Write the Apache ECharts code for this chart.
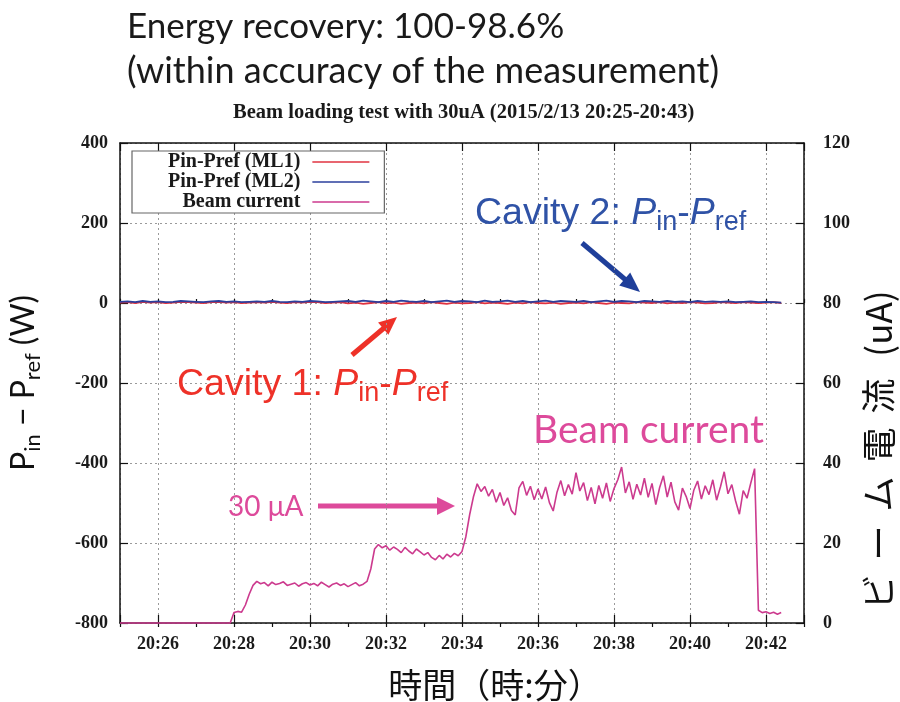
<!DOCTYPE html>
<html>
<head>
<meta charset="utf-8">
<script src="https://cdn.jsdelivr.net/npm/echarts@6/dist/echarts.min.js"></script>
<style>
  html, body { margin: 0; padding: 0; background: #fff; }
  #chart { width: 900px; height: 702px; }
</style>
</head>
<body>
<div id="chart"></div>
<script>
// Time is measured in minutes after 20:00.
const timeRange = [25, 43];
const xTickMinutes = [26, 28, 30, 32, 34, 36, 38, 40, 42];
const powerRange = [-800, 400];
const currentRange = [0, 120];

const seriesNames = ['Pin-Pref (ML1)', 'Pin-Pref (ML2)', 'Beam current'];

// Beam current (uA), logged every 0.1 min from 20:25.0
const beamStart = 25.0;
const beamStep = 0.1;
const beamCurrent = [
  0, 0, 0, 0, 0, 0, 0, 0, 0, 0,
  0, 0, 0, 0, 0, 0, 0, 0, 0, 0,
  0, 0, 0, 0, 0, 0, 0, 0, 0, 0,
  2.6, 2.9, 2.7, 4.5, 7.2, 9.4,
  10.4, 9.8, 10.1, 9.3, 10.2, 9.6, 9.9, 10.3, 9.4, 9.7,
  10.0, 9.2, 9.8, 10.1, 9.5, 9.9, 9.3, 10.2, 9.6, 9.0,
  9.7, 10.0, 9.4, 9.8, 9.1, 9.6, 10.1, 9.3, 9.7, 10.4,
  13.5, 18.5,
  19.6, 18.8, 19.3, 18.2, 19.0, 18.4, 17.6, 18.9, 18.0, 17.3,
  18.5, 17.8, 17.0, 17.6, 16.4, 15.8, 16.9, 16.0, 17.2, 16.5,
  17.4, 16.8, 17.9,
  21.5, 27.0, 31.5,
  34.8, 32.9, 34.1, 31.7, 33.4, 30.2,
  32.6, 29.4, 31.3, 28.1, 27.0, 33.8, 35.4, 31.9, 34.2, 30.8,
  33.5, 31.0, 34.0, 30.1, 28.0, 32.7, 35.6, 31.8, 34.6, 32.2,
  37.6, 33.0, 35.1, 30.6, 33.9, 29.8, 34.4, 31.2, 35.0, 30.4,
  33.6, 35.8, 39.0, 32.5, 35.3, 30.9, 34.7, 32.0, 36.2, 31.4,
  34.9, 29.6, 33.8, 36.8, 31.5, 35.2, 30.3, 28.2, 33.7, 31.6,
  28.6, 33.2, 35.5, 31.0, 34.3, 32.1, 35.8, 30.7, 34.0, 37.8,
  32.3, 34.6, 30.5, 27.2, 33.1, 31.2, 35.0, 38.6,
  3.2, 2.6, 2.8, 2.4, 2.7, 2.2, 2.6
];

// Pin - Pref (W) of the two cavities, logged every 0.2 min from 20:25.0
const powerStart = 25.0;
const powerStep = 0.2;
const ml1Power = [
  1, 2, 0, 3, 1, 2, 0, 1, 3, 2,
  1, 0, 2, 3, 1, 2, 0, 1, 2, 1,
  3, 1, 0, 2, 1, 3, 2, 0, 1, 2,
  -1, 1, -2, 0, 2, -1, 1, -2, 0, 1,
  -1, 2, 0, -2, 1, -1, 0, 2, -1, 1,
  0, -2, 1, -1, 2, 0, -1, 1, -2, 0,
  1, -1, 2, 0, -2, 1, 0, -1, 2, 1,
  0, 2, -1, 1, 0, 2, 1, -1, 0, 2,
  1, 0, 2, 1, 0, 1, 2, 0
];
const ml2Power = [
  3, 4, 2, 5, 3, 4, 2, 3, 5, 4,
  3, 2, 4, 5, 3, 4, 2, 3, 4, 3,
  5, 3, 2, 4, 3, 5, 4, 2, 3, 4,
  5, 3, 6, 4, 2, 5, 3, 6, 4, 3,
  5, 2, 4, 6, 3, 5, 4, 2, 6, 3,
  4, 6, 3, 5, 2, 4, 6, 3, 5, 4,
  3, 5, 2, 4, 6, 3, 5, 4, 2, 5,
  4, 3, 5, 3, 4, 2, 5, 3, 4, 3,
  4, 2, 3, 4, 2, 3, 2, 1
];

const SERIF = '"Liberation Serif", "DejaVu Serif", serif';
const SANS = 'Lato, "Noto Sans", sans-serif';
const ARIAL = '"Liberation Sans", Arial, sans-serif';
const CJK = '"Noto Sans CJK JP", "Noto Sans CJK SC", sans-serif';

const RED = '#e03340';
const BLUE = '#2b3f9c';
const MAGENTA = '#cc3a8e';

function timed(values, start, step) {
  return values.map((v, i) => [Math.round((start + i * step) * 100) / 100, v]);
}

function minuteLabel(v) {
  if (xTickMinutes.indexOf(v) < 0) return '';
  return '20:' + String(v).padStart(2, '0');
}

function arrow(x1, y1, x2, y2, color, width, headLen, headWidth) {
  const dx = x2 - x1, dy = y2 - y1;
  const len = Math.hypot(dx, dy);
  const ux = dx / len, uy = dy / len;
  const bx = x2 - ux * headLen, by = y2 - uy * headLen;
  const nx = -uy * headWidth / 2, ny = ux * headWidth / 2;
  return {
    type: 'group', silent: true, z: 100,
    children: [
      { type: 'line', shape: { x1: x1, y1: y1, x2: bx + ux, y2: by + uy },
        style: { stroke: color, lineWidth: width } },
      { type: 'polygon', shape: { points: [[x2, y2], [bx + nx, by + ny], [bx - nx, by - ny]] },
        style: { fill: color } }
    ]
  };
}

// Rich styles for "Cavity n: P_in-P_ref" (zrender text uses fill)
function pRich(color, size, subSize) {
  return {
    m: { fontFamily: ARIAL, fontSize: size, fill: color, lineHeight: 44 },
    p: { fontFamily: ARIAL, fontSize: size, fill: color, fontStyle: 'italic', lineHeight: 44 },
    s: { fontFamily: ARIAL, fontSize: subSize, fill: color, lineHeight: 16, verticalAlign: 'bottom' }
  };
}

const frameLine = { show: true, onZero: false, lineStyle: { color: '#111', width: 1.5 } };
const gridDots = { show: true, lineStyle: { color: '#9a9a9a', width: 1, type: [2, 3] } };
const tickFont = { fontFamily: SERIF, fontWeight: 'bold', fontSize: 18, color: '#1a1a1a' };
const tickLine = { color: '#111', width: 1.2 };

const chart = echarts.init(document.getElementById('chart'), null, { renderer: 'canvas' });

chart.setOption({
  backgroundColor: '#fff',
  animation: false,
  title: {
    text: 'Beam loading test with 30uA (2015/2/13 20:25-20:43)',
    left: 233, top: 102, padding: 0,
    textStyle: { fontFamily: SERIF, fontWeight: 'bold', fontSize: 20.5, color: '#1a1a1a' }
  },
  grid: { left: 120, right: 96, top: 143, bottom: 79, containLabel: false, outerBoundsMode: 'none' },
  legend: {
    data: seriesNames,
    orient: 'vertical', align: 'right',
    left: 132, top: 151,
    padding: [1, 15, 1, 36],
    itemWidth: 57, itemHeight: 14, itemGap: 0,
    icon: 'path://M0,0L57,0L57,1.6L0,1.6Z',
    backgroundColor: '#fff', borderColor: '#666', borderWidth: 1.2,
    textStyle: { fontFamily: SERIF, fontWeight: 'bold', fontSize: 20, lineHeight: 20, color: '#1a1a1a', padding: [0, 7, 0, 0] }
  },
  xAxis: [
    {
      type: 'value', position: 'bottom',
      min: timeRange[0], max: timeRange[1], splitNumber: 9,
      axisLine: frameLine,
      axisTick: { show: true, inside: true, length: 8, lineStyle: tickLine },
      axisLabel: { ...tickFont, margin: 12, formatter: minuteLabel },
      splitLine: gridDots,
      name: '時間（時:分）', nameLocation: 'middle', nameGap: 45,
      nameTextStyle: { fontFamily: CJK, fontSize: 34, color: '#111', padding: [0, 0, 0, 66] }
    },
    {
      type: 'value', position: 'top',
      min: timeRange[0], max: timeRange[1], splitNumber: 9,
      axisLine: frameLine,
      axisTick: { show: true, inside: true, length: 8, lineStyle: tickLine },
      axisLabel: { show: false }, splitLine: { show: false }
    },
    {
      type: 'value', position: 'bottom',
      min: timeRange[0], max: timeRange[1], interval: 1,
      axisLine: { show: false },
      axisTick: { show: true, inside: true, length: 4, lineStyle: tickLine },
      axisLabel: { show: false }, splitLine: { show: false }
    },
    {
      type: 'value', position: 'top',
      min: timeRange[0], max: timeRange[1], interval: 1,
      axisLine: { show: false },
      axisTick: { show: true, inside: true, length: 4, lineStyle: tickLine },
      axisLabel: { show: false }, splitLine: { show: false }
    }
  ],
  yAxis: [
    {
      type: 'value', position: 'left',
      min: powerRange[0], max: powerRange[1], interval: 200,
      axisLine: frameLine,
      axisTick: { show: true, inside: true, length: 8, lineStyle: tickLine },
      axisLabel: { ...tickFont, margin: 12 },
      splitLine: gridDots,
      name: '{m|P}{s|in}{m| − P}{s|ref}{m| (W)}',
      nameLocation: 'middle', nameRotate: 90, nameGap: 76,
      nameTextStyle: {
        rich: {
          m: { fontFamily: SANS, fontSize: 32, color: '#111', lineHeight: 40 },
          s: { fontFamily: SANS, fontSize: 22, color: '#111', lineHeight: 12, verticalAlign: 'bottom' }
        }
      }
    },
    {
      type: 'value', position: 'right',
      min: currentRange[0], max: currentRange[1], interval: 20,
      axisLine: frameLine,
      axisTick: { show: true, inside: true, length: 8, lineStyle: tickLine },
      axisLabel: { ...tickFont, margin: 19 },
      splitLine: { show: false },
      name: '{c|ビ}{c|ー}{c|ム}{c|電}{c|流}{c| (uA)}',
      nameLocation: 'middle', nameRotate: 90, nameGap: 57,
      nameTextStyle: {
        padding: [0, 134, 0, 0],
        rich: { c: { fontFamily: CJK, fontSize: 35, color: '#111', padding: [0, 7, 0, 7] } }
      }
    }
  ],
  series: [
    {
      name: seriesNames[2], type: 'line', xAxisIndex: 0, yAxisIndex: 1,
      data: timed(beamCurrent, beamStart, beamStep),
      symbol: 'none', clip: false, z: 3,
      lineStyle: { color: MAGENTA, width: 1.6 }, itemStyle: { color: MAGENTA }
    },
    {
      name: seriesNames[0], type: 'line', xAxisIndex: 0, yAxisIndex: 0,
      data: timed(ml1Power, powerStart, powerStep),
      symbol: 'none', z: 4,
      lineStyle: { color: RED, width: 1.8 }, itemStyle: { color: RED }
    },
    {
      name: seriesNames[1], type: 'line', xAxisIndex: 0, yAxisIndex: 0,
      data: timed(ml2Power, powerStart, powerStep),
      symbol: 'none', z: 5,
      lineStyle: { color: BLUE, width: 1.8 }, itemStyle: { color: BLUE }
    }
  ],
  graphic: [
    { type: 'text', x: 127, y: 27, z: 100,
      style: { text: 'Energy recovery: 100-98.6%', font: '35px ' + SANS, fill: '#1a1a1a', verticalAlign: 'middle' } },
    { type: 'text', x: 127, y: 71, z: 100,
      style: { text: '(within accuracy of the measurement)', font: '36px ' + SANS, fill: '#1a1a1a', verticalAlign: 'middle' } },
    { type: 'text', x: 475, y: 192, z: 100,
      style: { text: '{m|Cavity 2: }{p|P}{s|in}{m|-}{p|P}{s|ref}', rich: pRich('#2f52a6', 37.5, 27), verticalAlign: 'top' } },
    { type: 'text', x: 177, y: 363, z: 100,
      style: { text: '{m|Cavity 1: }{p|P}{s|in}{m|-}{p|P}{s|ref}', rich: pRich('#ee3128', 37.5, 27), verticalAlign: 'top' } },
    { type: 'text', x: 533, y: 430, z: 100,
      style: { text: 'Beam current', font: '39px ' + SANS, fill: '#dd4a9b', verticalAlign: 'middle' } },
    { type: 'text', x: 228, y: 507, z: 100,
      style: { text: '30 μA', font: '28px ' + SANS, fill: '#dd4a9b', verticalAlign: 'middle' } },
    arrow(582, 243, 640, 292, '#1f3f9a', 5, 20, 17),
    arrow(352, 355, 397, 317, '#ee3128', 5, 18, 16),
    arrow(318, 506, 455, 506, '#dd4a9b', 5, 18, 18)
  ]
});
</script>
</body>
</html>
